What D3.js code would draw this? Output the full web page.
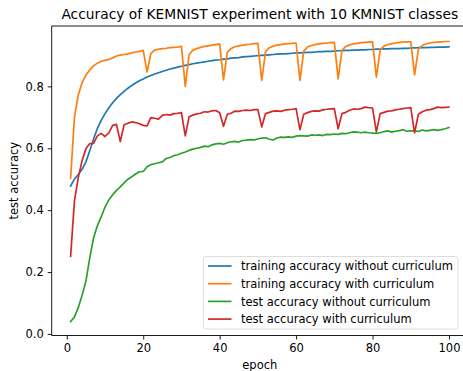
<!DOCTYPE html>
<html>
<head>
<meta charset="utf-8">
<script src="https://cdn.jsdelivr.net/npm/d3@7"></script>
<style>
html,body{margin:0;padding:0;background:#fff;overflow:hidden;}
svg{display:block;font-family:"DejaVu Sans",sans-serif;}
</style>
</head>
<body>
<div id="chart"></div>
<script>
const title = "Accuracy of KEMNIST experiment with 10 KMNIST classes";
const xLabel = "epoch";
const yLabel = "test accuracy";
const xTicks = [0, 20, 40, 60, 80, 100];
const yTicks = [0.0, 0.2, 0.4, 0.6, 0.8];
const seriesNames = [
  "training accuracy without curriculum",
  "training accuracy with curriculum",
  "test accuracy without curriculum",
  "test accuracy with curriculum"
];
const seriesColors = ["#1f77b4", "#ff7f0e", "#2ca02c", "#d62728"];

const trainNoCurr = [
0.478,0.500,0.515,0.532,0.556,0.592,0.630,0.664,0.690,0.712,
0.731,0.747,0.761,0.773,0.784,0.794,0.803,0.811,0.818,0.824,
0.830,0.835,0.840,0.844,0.848,0.852,0.856,0.859,0.862,0.865,
0.868,0.870,0.873,0.875,0.877,0.879,0.881,0.883,0.885,0.886,
0.888,0.889,0.891,0.892,0.893,0.895,0.896,0.897,0.898,0.899,
0.900,0.901,0.902,0.903,0.904,0.905,0.905,0.906,0.907,0.908,
0.908,0.909,0.910,0.910,0.911,0.912,0.912,0.913,0.913,0.914,
0.915,0.915,0.916,0.916,0.917,0.917,0.918,0.918,0.919,0.919,
0.920,0.920,0.921,0.921,0.922,0.922,0.922,0.923,0.923,0.924,
0.924,0.925,0.925,0.925,0.926,0.926,0.927,0.927,0.927,0.928];

const trainCurr = [
0.503,0.700,0.772,0.812,0.836,0.853,0.866,0.875,0.881,0.884,
0.887,0.892,0.898,0.901,0.903,0.905,0.908,0.911,0.913,0.916,
0.846,0.906,0.917,0.920,0.922,0.923,0.925,0.926,0.927,0.929,
0.800,0.903,0.917,0.922,0.926,0.929,0.931,0.933,0.935,0.937,
0.821,0.910,0.922,0.928,0.931,0.933,0.935,0.936,0.938,0.939,
0.819,0.912,0.925,0.930,0.933,0.935,0.937,0.938,0.939,0.940,
0.819,0.914,0.927,0.932,0.935,0.937,0.939,0.940,0.941,0.942,
0.824,0.916,0.929,0.934,0.937,0.939,0.941,0.942,0.943,0.944,
0.830,0.918,0.930,0.935,0.938,0.940,0.942,0.943,0.944,0.944,
0.837,0.920,0.932,0.937,0.940,0.942,0.943,0.944,0.945,0.945];

const testNoCurr = [
0.040,0.055,0.085,0.125,0.170,0.245,0.310,0.350,0.378,0.410,
0.433,0.450,0.464,0.475,0.488,0.500,0.508,0.517,0.524,0.525,
0.540,0.547,0.550,0.553,0.556,0.567,0.570,0.576,0.579,0.584,
0.588,0.593,0.597,0.600,0.603,0.607,0.605,0.611,0.614,0.616,
0.613,0.618,0.621,0.622,0.620,0.625,0.626,0.628,0.627,0.630,
0.633,0.634,0.629,0.627,0.633,0.636,0.635,0.637,0.635,0.639,
0.641,0.640,0.639,0.643,0.642,0.643,0.641,0.645,0.644,0.646,
0.645,0.648,0.647,0.650,0.653,0.652,0.650,0.652,0.650,0.649,
0.648,0.650,0.654,0.656,0.652,0.655,0.657,0.660,0.655,0.656,
0.657,0.654,0.659,0.656,0.658,0.660,0.658,0.660,0.663,0.667];

const testCurr = [
0.251,0.430,0.505,0.560,0.598,0.615,0.616,0.640,0.648,0.638,
0.650,0.674,0.677,0.622,0.676,0.681,0.685,0.683,0.679,0.674,
0.672,0.699,0.697,0.694,0.706,0.709,0.707,0.712,0.713,0.715,
0.640,0.702,0.707,0.711,0.713,0.718,0.717,0.721,0.722,0.715,
0.671,0.710,0.713,0.720,0.719,0.722,0.723,0.722,0.725,0.725,
0.669,0.712,0.716,0.720,0.721,0.719,0.723,0.725,0.726,0.728,
0.660,0.710,0.715,0.719,0.721,0.720,0.724,0.726,0.727,0.728,
0.663,0.712,0.716,0.723,0.727,0.726,0.728,0.733,0.731,0.730,
0.653,0.712,0.716,0.720,0.721,0.724,0.726,0.728,0.730,0.731,
0.650,0.710,0.718,0.723,0.725,0.728,0.733,0.731,0.732,0.733];

const allSeries = [trainNoCurr, trainCurr, testNoCurr, testCurr];

(function () {
const W = 463, H = 371;
const pL = 51.7, pR = 467.9, pT = 26, pB = 335.5;
const fs = 11.5, tfs = 13.8;

const svg = d3.select("#chart").append("svg").attr("width", W).attr("height", H);

const x = d3.scaleLinear().domain([-3.95, 104.95]).range([pL, pR]);
const y = d3.scaleLinear().domain([-0.005, 0.995]).range([pB, pT]);

svg.append("clipPath").attr("id","clip").append("rect")
  .attr("x", pL).attr("y", pT).attr("width", pR-pL).attr("height", pB-pT);

const line = d3.line().x((d,i)=>x(i+1)).y(d=>y(d));
const lines = svg.append("g").attr("clip-path","url(#clip)");
allSeries.forEach((s, k) => {
  lines.append("path").datum(s)
    .attr("d", line)
    .attr("fill","none")
    .attr("stroke", seriesColors[k])
    .attr("stroke-width", 1.7)
    .attr("stroke-linejoin","round")
    .attr("stroke-linecap","square");
});

const xAxis = d3.axisBottom(x).tickValues(xTicks).tickSize(4).tickPadding(4).tickFormat(d3.format("d"));
const yAxis = d3.axisLeft(y).tickValues(yTicks).tickSize(4).tickPadding(4).tickFormat(d3.format(".1f"));

const gx = svg.append("g").attr("transform", `translate(0,${pB})`).call(xAxis);
const gy = svg.append("g").attr("transform", `translate(${pL},0)`).call(yAxis);
[gx, gy].forEach(a => {
  a.select(".domain").remove();
  a.selectAll(".tick line").attr("stroke","#000").attr("stroke-width",0.9);
  a.selectAll(".tick text").attr("fill","#000").style("font-size",fs+"px").style("font-family","DejaVu Sans");
});

const sp = svg.append("g").attr("fill","none").attr("stroke","#000").attr("stroke-width",0.9);
sp.append("line").attr("x1",pL).attr("x2",pL).attr("y1",pT).attr("y2",pB);
sp.append("line").attr("x1",pL).attr("x2",pR).attr("y1",pB).attr("y2",pB);
sp.append("line").attr("x1",pL).attr("x2",pR).attr("y1",pT).attr("y2",pT);
sp.append("line").attr("x1",pR).attr("x2",pR).attr("y1",pT).attr("y2",pB);

svg.append("text").attr("x",(pL+pR)/2).attr("y",19).attr("text-anchor","middle")
  .style("font-size",tfs+"px").attr("fill","#000").text(title);
svg.append("text").attr("x",(pL+pR)/2).attr("y",369).attr("text-anchor","middle")
  .style("font-size",fs+"px").attr("fill","#000").text(xLabel);
svg.append("text").attr("transform",`translate(18,${(pT+pB)/2}) rotate(-90)`).attr("text-anchor","middle")
  .style("font-size",fs+"px").attr("fill","#000").text(yLabel);

const lg = svg.append("g");
lg.append("rect").attr("x",203.5).attr("y",256.5).attr("width",254.5).attr("height",72.5)
  .attr("rx",2.5).attr("fill","#fff").attr("fill-opacity",0.8).attr("stroke","#d9d9d9").attr("stroke-width",0.9);
seriesNames.forEach((n,k) => {
  const cy = 266 + k*17.7;
  lg.append("line").attr("x1",208).attr("x2",231.5).attr("y1",cy).attr("y2",cy)
    .attr("stroke",seriesColors[k]).attr("stroke-width",1.7);
  lg.append("text").attr("x",241).attr("y",cy+4.2).style("font-size",fs+"px").attr("fill","#000").text(n);
});
})();
</script>
</body>
</html>
